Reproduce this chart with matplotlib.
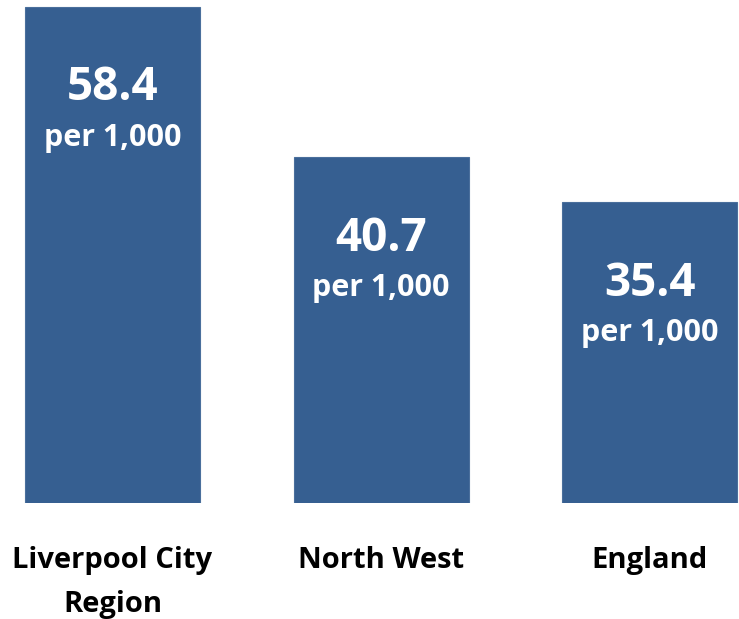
import matplotlib
matplotlib.use("Agg")
import matplotlib.pyplot as plt

regions = ["Liverpool City\nRegion", "North West", "England"]
rates = [58.4, 40.7, 35.4]
unit = "per 1,000"

bar_color = "#365F91"

plt.rcParams['font.family'] = ['Open Sans', 'DejaVu Sans']

fig = plt.figure(figsize=(7.39, 6.19), dpi=100)
ax = fig.add_axes([0, 1 - 503 / 619, 1, 503 / 619])

pos = range(len(rates))
ax.bar(pos, rates, width=0.652, color=bar_color, edgecolor="#4A6F9C", linewidth=0.8)

for x, v in zip(pos, rates):
    ax.annotate(f"{v:.1f}", (x, v), xytext=(0, -81), textcoords="offset pixels",
                ha="center", va="center", color="white", fontsize=33, fontweight="bold")
    ax.annotate(unit, (x, v), xytext=(0, -131), textcoords="offset pixels",
                ha="center", va="center", color="white", fontsize=22, fontweight="bold")

ax.set_xlim(-0.419, 2.333)
ax.set_ylim(0, 59.22)
ax.set_xticks(list(pos))
ax.set_xticklabels(regions, fontsize=21, fontweight="bold", linespacing=1.68)
ax.tick_params(axis="x", length=0, pad=31)
ax.set_yticks([])
for s in ax.spines.values():
    s.set_visible(False)

fig.savefig("out.png", dpi=100)
